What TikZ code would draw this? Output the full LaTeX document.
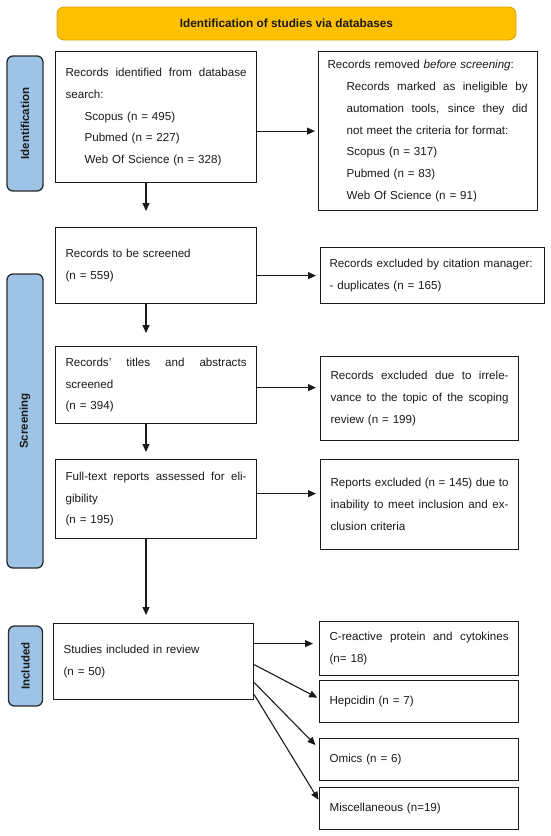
\documentclass[tikz,border=0pt]{standalone}
\usepackage{fontspec}
\setmainfont{Liberation Sans}
\usetikzlibrary{arrows.meta,calc}
\definecolor{hdr}{HTML}{FFC000}
\definecolor{hdrline}{HTML}{D9A300}
\definecolor{lab}{HTML}{9DC3E6}
\definecolor{labline}{HTML}{2B2B2B}
\definecolor{ink}{HTML}{1A1A1A}
\newcommand{\jl}[2]{\makebox[#1][s]{\spaceskip=0pt\xspaceskip=0pt\relax #2}}
\newcommand{\ind}{\hspace*{19pt}}
\begin{document}
\begin{tikzpicture}[x=1pt,y=-1pt,
  every node/.style={font=\fontsize{11.6pt}{21.8pt}\selectfont, text=ink},
  box/.style={draw=ink, line width=1.2pt, fill=white, anchor=north west, align=left, inner xsep=10pt, inner ysep=0pt},
  sidelab/.style={draw=labline, fill=lab, line width=1.3pt, rounded corners=6pt, rotate=90, font=\bfseries\fontsize{11.5pt}{13pt}\selectfont, inner sep=0pt},
  header/.style={draw=hdrline, fill=hdr, line width=0.8pt, rounded corners=7pt, font=\bfseries\fontsize{11.8pt}{14pt}\selectfont, inner sep=0pt},
  arr/.style={draw=ink, line width=1.1pt, -{Triangle[length=8pt,width=7pt]}},
]
\useasboundingbox (0,0) rectangle (550,836);

\node[header, minimum width=459pt, minimum height=33pt] (hd) at (286.5,23.5) {Identification of studies via databases};

\node[sidelab, minimum width=135pt, minimum height=36pt] (lid) at (25,123.5) {Identification};
\node[sidelab, minimum width=294pt, minimum height=36pt] (lsc) at (25,421) {Screening};
\node[sidelab, minimum width=80pt, minimum height=34pt] (lin) at (25.5,666) {Included};

\node[box, text width=181pt, minimum height=131pt] (b1) at (55,51) {%
\jl{181pt}{Records identified from database}\\
search:\\
\ind Scopus (n = 495)\\
\ind Pubmed (n = 227)\\
\ind Web Of Science (n = 328)};

\node[box, inner xsep=9pt, text width=201pt, minimum height=159pt] (b2) at (318,51) {%
Records removed \textit{before screening}:\\
\ind\jl{181pt}{Records marked as ineligible by}\\
\ind\jl{181pt}{automation tools, since they did}\\
\ind not meet the criteria for format:\\
\ind Scopus (n = 317)\\
\ind Pubmed (n = 83)\\
\ind Web Of Science (n = 91)};

\node[box, text width=181pt, minimum height=76pt] (b3) at (55,227) {%
Records to be screened\\
(n = 559)};

\node[box, inner xsep=9pt, text width=206pt, minimum height=56pt] (b4) at (320,247) {%
Records excluded by citation manager:\\
- duplicates (n = 165)};

\node[box, text width=181pt, minimum height=77pt] (b5) at (55,346) {%
\jl{181pt}{Records' titles and abstracts}\\
screened\\
(n = 394)};

\node[box, text width=178pt, minimum height=84pt] (b6) at (320,356) {%
\jl{178pt}{Records excluded due to irrele-}\\
\jl{178pt}{vance to the topic of the scoping}\\
review (n = 199)};

\node[box, text width=181pt, minimum height=79pt] (b7) at (55,459) {%
\jl{181pt}{Full-text reports assessed for eli-}\\
gibility\\
(n = 195)};

\node[box, text width=178pt, minimum height=90pt] (b8) at (320,459) {%
\jl{178pt}{Reports excluded (n = 145) due to}\\
\jl{178pt}{inability to meet inclusion and ex-}\\
clusion criteria};

\node[box, text width=180pt, minimum height=76pt] (b9) at (53,623) {%
Studies included in review\\
(n = 50)};

\node[box, text width=179pt, minimum height=54pt] (b10) at (319,621) {%
\jl{179pt}{C-reactive protein and cytokines}\\
(n= 18)};

\node[box, text width=179pt, minimum height=42pt] (b11) at (319,680) {Hepcidin (n = 7)};
\node[box, text width=179pt, minimum height=42pt] (b12) at (319,738) {Omics (n = 6)};
\node[box, text width=179pt, minimum height=42pt] (b13) at (319,787) {Miscellaneous (n=19)};

\coordinate (col) at (146,0);

% horizontal arrows
\draw[arr, shorten >=3pt] (b1.east |- b2.west) -- (b2.west);
\draw[arr, shorten >=4pt] (b3.east |- b4.west) -- (b4.west);
\draw[arr, shorten >=4pt] ([yshift=-2.5pt]b5.east) -- ([yshift=-2.5pt]b5.east -| b6.west);
\draw[arr, shorten >=4pt] ([yshift=5.5pt]b7.east) -- ([yshift=5.5pt]b7.east -| b8.west);
\draw[arr, shorten >=6pt] ([yshift=5pt]b10.west -| b9.east) -- ([yshift=5pt]b10.west);

% vertical arrows
\draw[arr, shorten >=16pt] (b1.south -| col) -- (b3.north -| col);
\draw[arr, shorten >=13pt] (b3.south -| col) -- (b5.north -| col);
\draw[arr, shorten >=7pt] (b5.south -| col) -- (b7.north -| col);
\draw[arr, shorten >=8pt] (b7.south -| col) -- (b9.north -| col);

% diagonal arrows
\draw[arr, shorten >=2pt] ([yshift=-3pt]b9.east) -- ([yshift=3pt]b11.west);
\draw[arr, shorten >=5pt] ([yshift=-21pt]b9.east) -- ([yshift=11pt]b12.west);
\draw[arr, shorten >=1pt] ([yshift=-33pt]b9.east) -- ([yshift=8pt]b13.west);
\end{tikzpicture}
\end{document}
